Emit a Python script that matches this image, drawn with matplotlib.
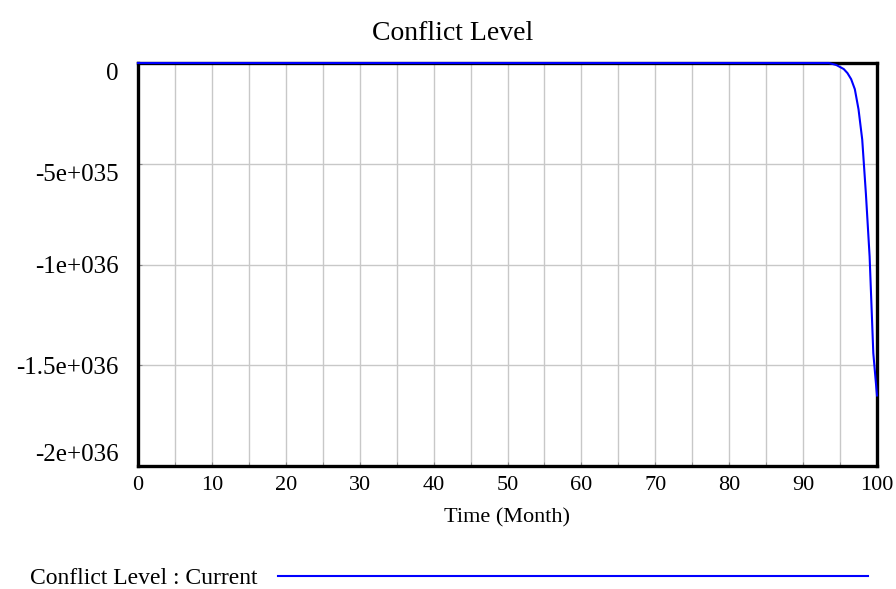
import matplotlib
import matplotlib.pyplot as plt

matplotlib.use("Agg")

plt.rcParams["font.family"] = ["Liberation Serif", "DejaVu Serif"]

# Conflict Level : Current (months, level)
time = [0, 93.5, 94.5, 95.5, 96, 96.5, 97, 97.5, 98, 98.5, 99, 99.5, 100]
level = [0, 0, -0.1e35, -0.3e35, -0.5e35, -0.8e35, -1.3e35, -2.3e35,
         -3.8e35, -6.5e35, -9.6e35, -14.4e35, -16.5e35]

y_ticks = [-2e36, -1.5e36, -1e36, -5e35, 0]
y_tick_labels = ["-2e+036", "-1.5e+036", "-1e+036", "-5e+035", "0"]
x_ticks = list(range(0, 101, 10))
x_minor = list(range(5, 100, 10))

fig = plt.figure(figsize=(8.96, 5.89), dpi=100)
ax = fig.add_axes([138 / 896, 1 - 466 / 589, 739 / 896, 403 / 589])

line, = ax.plot(time, level, color="#0000ff", linewidth=1.5, zorder=5,
                clip_on=False, label="Conflict Level : Current")

ax.set_xlim(0, 100)
ax.set_ylim(-2e36, 0)
ax.set_xticks(x_ticks)
ax.set_xticks(x_minor, minor=True)
ax.set_yticks(y_ticks, y_tick_labels)
ax.grid(True, which="both", color="#c8c8c8", linewidth=1.0)
ax.set_axisbelow(True)

for s in ax.spines.values():
    s.set_linewidth(2.4)
    s.set_color("black")

ax.tick_params(axis="both", which="both", direction="in", length=3,
               color="#888888", labelsize=16)
ax.tick_params(axis="y", pad=14, labelsize=18)
ax.tick_params(axis="x", pad=7)

ylabels = ax.get_yticklabels()
ylabels[0].set_va("bottom")
ylabels[3].set_va("top")
ylabels[4].set_va("top")

ax.set_xlabel("Time (Month)", fontsize=16, va="top")
ax.xaxis.set_label_coords(0.5, -(508 - 466) / 403)

fig.text(453 / 896, 1 - 33 / 589, "Conflict Level", fontsize=20,
         ha="center", va="center")

ax.legend(handles=[line], loc="center left",
          bbox_to_anchor=(30 / 896, 1 - 578 / 589),
          bbox_transform=fig.transFigure, frameon=False, fontsize=17,
          markerfirst=False, handlelength=25.0, handletextpad=0.85,
          borderpad=0, borderaxespad=0)

fig.savefig("out.png", dpi=100)
